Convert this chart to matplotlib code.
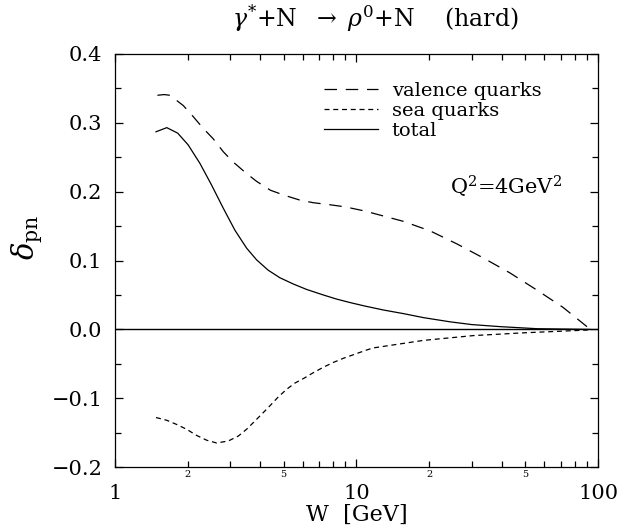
import numpy as np
import matplotlib
matplotlib.use("Agg")
import matplotlib.pyplot as plt
from matplotlib.ticker import LogLocator, FuncFormatter, FixedLocator

plt.rcParams['font.family'] = 'DejaVu Serif'
plt.rcParams['mathtext.fontset'] = 'dejavuserif'

# valence quarks (long dashes)
w_val = [1.50, 1.60, 1.69, 1.92, 2.11, 2.32, 2.55, 2.81, 3.09, 3.49, 3.86, 4.41, 5.01,
         5.80, 6.62, 7.77, 8.96, 10.8, 15.6, 20.2, 26.1, 33.4, 43.2, 55.9, 71.6, 90.0, 93.0]
d_val = [0.340, 0.341, 0.340, 0.325, 0.309, 0.292, 0.277, 0.258, 0.243, 0.227, 0.215, 0.202, 0.195,
         0.188, 0.184, 0.181, 0.178, 0.172, 0.157, 0.143, 0.124, 0.104, 0.082, 0.057, 0.032, 0.004, 0.0]

# sea quarks (short dashes)
w_sea = [1.48, 1.64, 1.80, 1.98, 2.18, 2.40, 2.64, 2.95, 3.24, 3.51, 3.80, 4.11, 4.41,
         4.75, 5.14, 5.56, 6.06, 6.62, 7.29, 8.02, 8.82, 9.86, 10.8, 11.7, 18.9, 30.5,
         49.1, 89.8, 93.0]
d_sea = [-0.128, -0.132, -0.138, -0.145, -0.154, -0.161, -0.165, -0.162, -0.155, -0.145,
         -0.133, -0.121, -0.110, -0.098, -0.087, -0.078, -0.071, -0.063, -0.055, -0.048,
         -0.042, -0.036, -0.031, -0.027, -0.016, -0.009, -0.005, -0.001, 0.0]

# total (solid)
w_tot = [1.48, 1.64, 1.82, 2.01, 2.25, 2.51, 2.81, 3.14, 3.51, 3.86, 4.31, 4.82, 5.47,
         6.22, 7.29, 8.28, 9.40, 10.8, 13.0, 15.6, 19.0, 24.4, 30.0, 39.3, 55.9, 92.7]
d_tot = [0.287, 0.293, 0.285, 0.268, 0.241, 0.210, 0.176, 0.144, 0.118, 0.101, 0.086, 0.075, 0.066,
         0.058, 0.050, 0.044, 0.039, 0.034, 0.028, 0.023, 0.017, 0.011, 0.007, 0.004, 0.001, 0.0]

fig = plt.figure(figsize=(6.21, 5.29), dpi=100)
ax = fig.add_axes([0.185, 0.117, 0.778, 0.781])

lw = 0.9
ax.plot(w_val, d_val, color='black', lw=lw, dashes=(10, 7), label='valence quarks')
ax.plot(w_sea, d_sea, color='black', lw=lw, dashes=(4, 3), label='sea quarks')
ax.plot(w_tot, d_tot, color='black', lw=lw, label='total')
ax.axhline(0.0, color='black', lw=1.0)

ax.set_xscale('log')
ax.set_xlim(1, 100)
ax.set_ylim(-0.2, 0.4)

ax.xaxis.set_major_locator(FixedLocator([1, 10, 100]))
ax.xaxis.set_minor_locator(LogLocator(base=10, subs=np.arange(2, 10)))
ax.xaxis.set_major_formatter(FuncFormatter(lambda v, p: '%d' % v))

def minor_fmt(v, p):
    m = v / 10 ** np.floor(np.log10(v) + 1e-9)
    if abs(m - 2) < 1e-6:
        return '2'
    if abs(m - 5) < 1e-6:
        return '5'
    return ''

ax.xaxis.set_minor_formatter(FuncFormatter(minor_fmt))
ax.set_yticks(np.arange(-0.2, 0.41, 0.1))
ax.set_yticks(np.arange(-0.15, 0.4, 0.1), minor=True)
ax.yaxis.set_major_formatter(FuncFormatter(lambda v, p: ('%.1f' % v).replace('-', '\u2212')))

ax.tick_params(which='both', direction='in', top=True, right=True, width=0.9)
ax.tick_params(which='major', length=6, labelsize=15)
ax.tick_params(axis='x', which='major', pad=12)
ax.tick_params(axis='y', which='major', pad=9)
ax.tick_params(axis='x', which='minor', length=4, labelsize=7, pad=2)
ax.tick_params(axis='y', which='minor', length=4)
for s in ax.spines.values():
    s.set_linewidth(0.9)

ax.set_xlabel('W  [GeV]', fontsize=16, labelpad=1)
ax.set_ylabel(r'$\delta_{\rm pn}$', fontsize=21)
ax.yaxis.set_label_coords(-0.145, 0.557)

fig.text(0.605, 0.965, r'$\gamma^{*}$+N  $\rightarrow$ $\rho^{0}$+N    (hard)',
         ha='center', va='center', fontsize=17)

ax.text(0.694, 0.678, r'Q$^{2}$=4GeV$^{2}$', transform=ax.transAxes,
        ha='left', va='center', fontsize=15)

ax.legend(loc='upper left', bbox_to_anchor=(0.416, 0.951), frameon=False,
          fontsize=14, handlelength=2.8, handletextpad=0.7, labelspacing=0.1,
          borderaxespad=0)

fig.savefig('out.png', dpi=100)
